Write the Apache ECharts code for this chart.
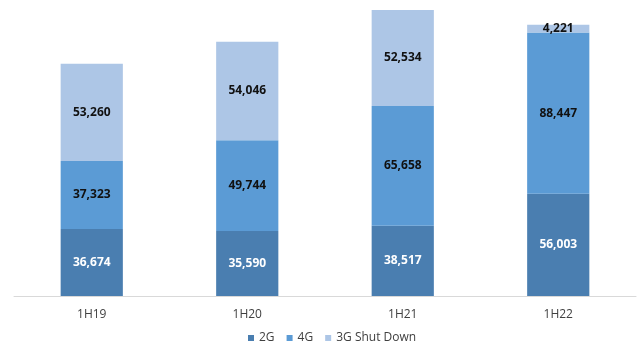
<!DOCTYPE html>
<html>
<head>
<meta charset="utf-8">
<script src="https://cdn.jsdelivr.net/npm/echarts@6/dist/echarts.min.js"></script>
<style>
  html, body { margin: 0; padding: 0; background: #fff; }
  #chart { width: 640px; height: 344px; }
</style>
</head>
<body>
<div id="chart"></div>
<script>
// half-year periods
let periods = ['1H19', '1H20', '1H21', '1H22']
let names = ['2G', '4G', '3G Shut Down']
let val2G = [36674, 35590, 38517, 56003]
let val4G = [37323, 49744, 65658, 88447]
let val3G = [53260, 54046, 52534, 4221]

let colors = ['#4a7eb0', '#5b9bd5', '#adc6e6']
let fontFam = '"Open Sans", "Liberation Sans", sans-serif'

let chart = echarts.init(document.getElementById('chart'))

let makeSeries = (name, data, color, labelColor) => ({
  name,
  type: 'bar',
  stack: 'total',
  data,
  barWidth: '40%',
  itemStyle: { color },
  label: {
    show: true,
    position: 'inside',
    color: labelColor,
    fontFamily: fontFam,
    fontSize: 12,
    fontWeight: 'bold',
    formatter: p => p.value.toLocaleString('en-US')
  }
})

chart.setOption({
  animation: false,
  grid: {
    left: 14,
    right: 4,
    top: 4,
    bottom: 48,
    containLabel: false
  },
  legend: {
    top: 327,
    left: 243,
    itemWidth: 6,
    itemHeight: 6,
    itemGap: 12,
    icon: 'rect',
    textStyle: { color: '#404040', fontSize: 12, fontFamily: fontFam },
    data: names
  },
  xAxis: {
    type: 'category',
    data: periods,
    axisLine: { lineStyle: { color: '#d9d9d9' } },
    axisTick: { show: false },
    axisLabel: { color: '#404040', fontSize: 12, fontFamily: fontFam, margin: 13 }
  },
  yAxis: {
    type: 'value',
    min: 0,
    max: 160000,
    show: false,
    splitLine: { show: false }
  },
  series: [
    makeSeries(names[0], val2G, colors[0], '#ffffff'),
    makeSeries(names[1], val4G, colors[1], '#111111'),
    makeSeries(names[2], val3G, colors[2], '#111111')
  ]
})
</script>
</body>
</html>
